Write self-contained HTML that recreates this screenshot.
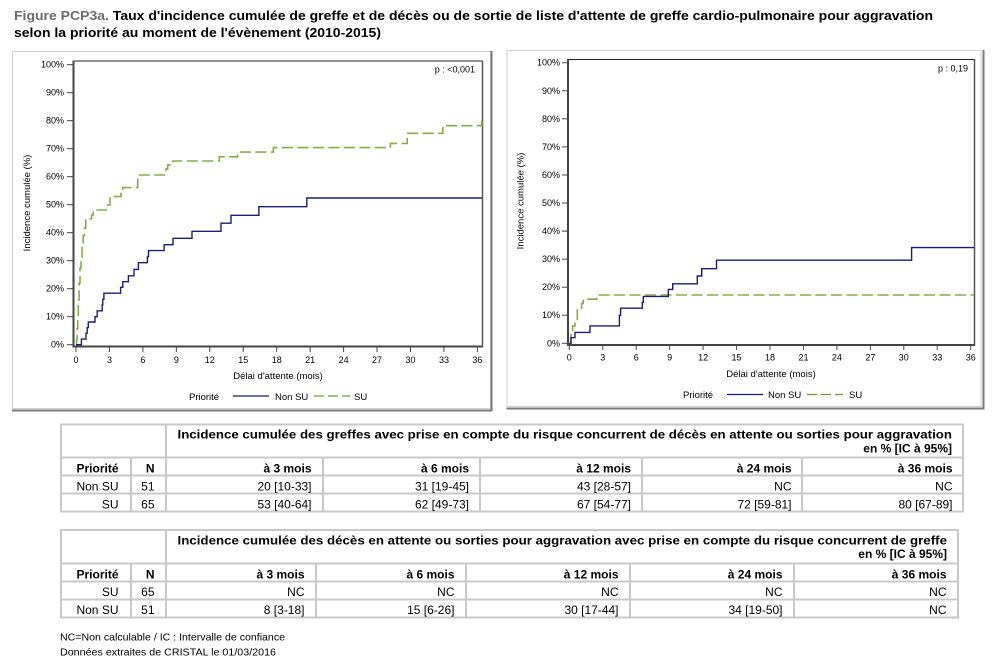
<!DOCTYPE html>
<html>
<head>
<meta charset="utf-8">
<style>
html,body{margin:0;padding:0;background:#fff;}
svg{display:block;}
text{font-family:"Liberation Sans",Arial,sans-serif;}
</style>
</head>
<body>
<svg width="1000" height="672" viewBox="0 0 1000 672" xmlns="http://www.w3.org/2000/svg">
<rect width="1000" height="672" fill="#fff"/>

<!-- Title -->
<text x="14" y="20" font-size="13" font-weight="bold" textLength="919" lengthAdjust="spacingAndGlyphs"><tspan fill="#6b6b6b">Figure PCP3a.</tspan><tspan fill="#000"> Taux d'incidence cumulée de greffe et de décès ou de sortie de liste d'attente de greffe cardio-pulmonaire pour aggravation</tspan></text>
<text x="14" y="37" font-size="13" font-weight="bold" fill="#000" textLength="367" lengthAdjust="spacingAndGlyphs">selon la priorité au moment de l'évènement (2010-2015)</text>

<!-- ================= LEFT CHART ================= -->
<rect x="12.5" y="51.5" width="478" height="357" fill="#fff" stroke="#cfcfcf" stroke-width="1"/>
<line x1="491.5" y1="51" x2="491.5" y2="411" stroke="#7a7a7a" stroke-width="2"/>
<line x1="12" y1="410.5" x2="492" y2="410.5" stroke="#7a7a7a" stroke-width="2"/>

<!-- plot frame -->
<rect x="73.5" y="61" width="409" height="285.5" fill="none" stroke="#222" stroke-width="1"/>
<line x1="73.5" y1="60.5" x2="73.5" y2="347.5" stroke="#444" stroke-width="2"/>
<line x1="72.5" y1="346.5" x2="483" y2="346.5" stroke="#444" stroke-width="2"/>
<line x1="482.5" y1="60.5" x2="482.5" y2="347.5" stroke="#555" stroke-width="1.5"/>

<!-- y ticks -->
<g stroke="#444" stroke-width="1">
<line x1="67" y1="64.7" x2="73" y2="64.7"/>
<line x1="67" y1="92.7" x2="73" y2="92.7"/>
<line x1="67" y1="120.7" x2="73" y2="120.7"/>
<line x1="67" y1="148.7" x2="73" y2="148.7"/>
<line x1="67" y1="176.7" x2="73" y2="176.7"/>
<line x1="67" y1="204.7" x2="73" y2="204.7"/>
<line x1="67" y1="232.7" x2="73" y2="232.7"/>
<line x1="67" y1="260.7" x2="73" y2="260.7"/>
<line x1="67" y1="288.7" x2="73" y2="288.7"/>
<line x1="67" y1="316.7" x2="73" y2="316.7"/>
<line x1="67" y1="344.7" x2="73" y2="344.7"/>
</g>
<g font-size="9" fill="#000" text-anchor="end">
<text x="64" y="67.7">100%</text>
<text x="64" y="95.7">90%</text>
<text x="64" y="123.7">80%</text>
<text x="64" y="151.7">70%</text>
<text x="64" y="179.7">60%</text>
<text x="64" y="207.7">50%</text>
<text x="64" y="235.7">40%</text>
<text x="64" y="263.7">30%</text>
<text x="64" y="291.7">20%</text>
<text x="64" y="319.7">10%</text>
<text x="64" y="347.7">0%</text>
</g>
<!-- x ticks -->
<g stroke="#444" stroke-width="1">
<line x1="76" y1="347" x2="76" y2="352"/>
<line x1="109.45" y1="347" x2="109.45" y2="352"/>
<line x1="142.9" y1="347" x2="142.9" y2="352"/>
<line x1="176.35" y1="347" x2="176.35" y2="352"/>
<line x1="209.8" y1="347" x2="209.8" y2="352"/>
<line x1="243.25" y1="347" x2="243.25" y2="352"/>
<line x1="276.7" y1="347" x2="276.7" y2="352"/>
<line x1="310.15" y1="347" x2="310.15" y2="352"/>
<line x1="343.6" y1="347" x2="343.6" y2="352"/>
<line x1="377.05" y1="347" x2="377.05" y2="352"/>
<line x1="410.5" y1="347" x2="410.5" y2="352"/>
<line x1="443.95" y1="347" x2="443.95" y2="352"/>
<line x1="477.4" y1="347" x2="477.4" y2="352"/>
</g>
<g font-size="9" fill="#000" text-anchor="middle">
<text x="76" y="363">0</text>
<text x="109.45" y="363">3</text>
<text x="142.9" y="363">6</text>
<text x="176.35" y="363">9</text>
<text x="209.8" y="363">12</text>
<text x="243.25" y="363">15</text>
<text x="276.7" y="363">18</text>
<text x="310.15" y="363">21</text>
<text x="343.6" y="363">24</text>
<text x="377.05" y="363">27</text>
<text x="410.5" y="363">30</text>
<text x="443.95" y="363">33</text>
<text x="477.4" y="363">36</text>
</g>
<text x="278" y="379" font-size="9.5" text-anchor="middle" fill="#000">Délai d'attente (mois)</text>
<text transform="translate(30,203) rotate(-90)" font-size="9.5" text-anchor="middle" fill="#000">Incidence cumulée (%)</text>
<text x="475" y="72.5" font-size="9" text-anchor="end" fill="#000">p : &lt;0,001</text>

<!-- series left -->
<path d="M76,344.7 H76.6 V339.1 H77.1 V328.5 H77.7 V316.7 H78.3 V299.9 H79.1 V283.1 H80 V268 H81 V257.9 H82 V246.7 H83.2 V235.5 H84.4 V228.2 H85.7 V218.7 H91.6 V215.1 H93.3 V210 H107.7 V205 H110 V196.6 H121 V192.7 H122.7 V187.6 H137.7 V175 H166 V169.1 H167.7 V164.9 H172.7 V161 H219.3 V156.8 H237.7 V152.1 H273.4 V147.6 H390.4 V143.4 H407.2 V133.3 H442.8 V125.7 H481.7 V120.2" fill="none" stroke="#86ad45" stroke-width="1.6" stroke-dasharray="11,4.5"/>
<path d="M76,344.7 H81.4 V339.1 H86 V333.2 H87.2 V327.6 H88.3 V322 H95 V316.7 H97.2 V310.8 H102.2 V304.9 H102.8 V299.3 H103.9 V293.2 H120.6 V287.3 H122.8 V281.7 H128.4 V275.8 H134 V269.4 H138.4 V262.7 H147.4 V256.8 H148.5 V250.6 H164.1 V244.7 H173 V238.3 H192 V231.3 H221 V223.2 H231 V215.3 H258.9 V206.7 H306.8 V198 H482" fill="none" stroke="#1c1c78" stroke-width="1.4"/>

<!-- legend left -->
<text x="189" y="400" font-size="9.5" fill="#000">Priorité</text>
<line x1="233" y1="396" x2="269" y2="396" stroke="#1c1c78" stroke-width="1.3"/>
<text x="275" y="400" font-size="9.5" fill="#000">Non SU</text>
<line x1="314" y1="396" x2="350" y2="396" stroke="#6f9a2a" stroke-width="1.3" stroke-dasharray="10,4"/>
<text x="354" y="400" font-size="9.5" fill="#000">SU</text>

<!-- ================= RIGHT CHART ================= -->
<rect x="507" y="50.5" width="474" height="356" fill="#fff" stroke="#cfcfcf" stroke-width="1"/>
<line x1="983.5" y1="50" x2="983.5" y2="409.5" stroke="#7a7a7a" stroke-width="2"/>
<line x1="506.5" y1="408.5" x2="984.5" y2="408.5" stroke="#7a7a7a" stroke-width="2"/>

<rect x="568" y="59.5" width="406.5" height="285" fill="none" stroke="#222" stroke-width="1"/>
<line x1="568" y1="59" x2="568" y2="346" stroke="#444" stroke-width="2"/>
<line x1="567" y1="345" x2="975" y2="345" stroke="#444" stroke-width="2"/>
<line x1="974.5" y1="59" x2="974.5" y2="346" stroke="#555" stroke-width="1.5"/>

<g stroke="#444" stroke-width="1">
<line x1="562" y1="62.7" x2="567.5" y2="62.7"/>
<line x1="562" y1="90.8" x2="567.5" y2="90.8"/>
<line x1="562" y1="118.8" x2="567.5" y2="118.8"/>
<line x1="562" y1="146.9" x2="567.5" y2="146.9"/>
<line x1="562" y1="175" x2="567.5" y2="175"/>
<line x1="562" y1="203" x2="567.5" y2="203"/>
<line x1="562" y1="231.1" x2="567.5" y2="231.1"/>
<line x1="562" y1="259.1" x2="567.5" y2="259.1"/>
<line x1="562" y1="287.2" x2="567.5" y2="287.2"/>
<line x1="562" y1="315.2" x2="567.5" y2="315.2"/>
<line x1="562" y1="343.3" x2="567.5" y2="343.3"/>
</g>
<g font-size="9" fill="#000" text-anchor="end">
<text x="560" y="65.7">100%</text>
<text x="560" y="93.8">90%</text>
<text x="560" y="121.8">80%</text>
<text x="560" y="149.9">70%</text>
<text x="560" y="178">60%</text>
<text x="560" y="206">50%</text>
<text x="560" y="234.1">40%</text>
<text x="560" y="262.1">30%</text>
<text x="560" y="290.2">20%</text>
<text x="560" y="318.2">10%</text>
<text x="560" y="346.3">0%</text>
</g>
<g stroke="#444" stroke-width="1">
<line x1="569.3" y1="345.5" x2="569.3" y2="350"/>
<line x1="602.75" y1="345.5" x2="602.75" y2="350"/>
<line x1="636.2" y1="345.5" x2="636.2" y2="350"/>
<line x1="669.65" y1="345.5" x2="669.65" y2="350"/>
<line x1="703.1" y1="345.5" x2="703.1" y2="350"/>
<line x1="736.55" y1="345.5" x2="736.55" y2="350"/>
<line x1="770" y1="345.5" x2="770" y2="350"/>
<line x1="803.45" y1="345.5" x2="803.45" y2="350"/>
<line x1="836.9" y1="345.5" x2="836.9" y2="350"/>
<line x1="870.35" y1="345.5" x2="870.35" y2="350"/>
<line x1="903.8" y1="345.5" x2="903.8" y2="350"/>
<line x1="937.25" y1="345.5" x2="937.25" y2="350"/>
<line x1="970.7" y1="345.5" x2="970.7" y2="350"/>
</g>
<g font-size="9" fill="#000" text-anchor="middle">
<text x="569.3" y="360.5">0</text>
<text x="602.75" y="360.5">3</text>
<text x="636.2" y="360.5">6</text>
<text x="669.65" y="360.5">9</text>
<text x="703.1" y="360.5">12</text>
<text x="736.55" y="360.5">15</text>
<text x="770" y="360.5">18</text>
<text x="803.45" y="360.5">21</text>
<text x="836.9" y="360.5">24</text>
<text x="870.35" y="360.5">27</text>
<text x="903.8" y="360.5">30</text>
<text x="937.25" y="360.5">33</text>
<text x="970.7" y="360.5">36</text>
</g>
<text x="771" y="377" font-size="9.5" text-anchor="middle" fill="#000">Délai d'attente (mois)</text>
<text transform="translate(523.5,201) rotate(-90)" font-size="9.5" text-anchor="middle" fill="#000">Incidence cumulée (%)</text>
<text x="968" y="71.5" font-size="9" text-anchor="end" fill="#000">p : 0,19</text>

<path d="M569.3,343.3 H571 V333.2 H572.6 V325.9 H575 V321.7 H577.3 V308.2 H581.6 V303.5 H583.2 V299.2 H596.5 V295 H974" fill="none" stroke="#86ad45" stroke-width="1.6" stroke-dasharray="11,4.5"/>
<path d="M569.3,343.3 H571 V337.7 H575 V332.4 H590 V325.9 H619.4 V315.2 H620.6 V308.2 H642.3 V302.3 H643.3 V296.4 H668.3 V289.4 H672.7 V283.8 H697.3 V276 H701.7 V268.7 H716.5 V260.2 H911.6 V247.6 H974" fill="none" stroke="#1c1c78" stroke-width="1.4"/>

<text x="683" y="398" font-size="9.5" fill="#000">Priorité</text>
<line x1="727" y1="394.5" x2="763" y2="394.5" stroke="#1c1c78" stroke-width="1.3"/>
<text x="768" y="398" font-size="9.5" fill="#000">Non SU</text>
<line x1="807" y1="394.5" x2="843" y2="394.5" stroke="#6f9a2a" stroke-width="1.3" stroke-dasharray="10,4"/>
<text x="849" y="398" font-size="9.5" fill="#000">SU</text>

<!-- ================= TABLE 1 ================= -->
<g stroke="#c8c8c8" stroke-width="2" fill="none">
<line x1="60" y1="424.5" x2="964" y2="424.5"/>
<line x1="60" y1="457.5" x2="964" y2="457.5"/>
<line x1="60" y1="475.5" x2="964" y2="475.5"/>
<line x1="60" y1="493.5" x2="964" y2="493.5"/>
<line x1="60" y1="511.5" x2="964" y2="511.5"/>
<line x1="61" y1="424" x2="61" y2="512"/>
<line x1="166" y1="424" x2="166" y2="512"/>
<line x1="963" y1="424" x2="963" y2="512"/>
<line x1="131" y1="457" x2="131" y2="512"/>
<line x1="323" y1="457" x2="323" y2="512"/>
<line x1="480" y1="457" x2="480" y2="512"/>
<line x1="642" y1="457" x2="642" y2="512"/>
<line x1="802" y1="457" x2="802" y2="512"/>
</g>
<g font-size="12" fill="#000">
<text x="177.5" y="438.3" font-weight="bold" textLength="774.5" lengthAdjust="spacingAndGlyphs">Incidence cumulée des greffes avec prise en compte du risque concurrent de décès en attente ou sorties pour aggravation</text>
<text x="952" y="452.7" font-weight="bold" text-anchor="end">en % [IC à 95%]</text>
<g font-weight="bold" text-anchor="end">
<text x="118.5" y="472.3">Priorité</text>
<text x="154.5" y="472.3">N</text>
<text x="311.5" y="472.3">à 3 mois</text>
<text x="469" y="472.3">à 6 mois</text>
<text x="631" y="472.3">à 12 mois</text>
<text x="791.5" y="472.3">à 24 mois</text>
<text x="952.5" y="472.3">à 36 mois</text>
</g>
<g text-anchor="end">
<text x="118.5" y="490.3">Non SU</text>
<text x="154.5" y="490.3">51</text>
<text x="311.5" y="490.3">20 [10-33]</text>
<text x="469" y="490.3">31 [19-45]</text>
<text x="631" y="490.3">43 [28-57]</text>
<text x="791.5" y="490.3">NC</text>
<text x="952.5" y="490.3">NC</text>
<text x="118.5" y="508.3">SU</text>
<text x="154.5" y="508.3">65</text>
<text x="311.5" y="508.3">53 [40-64]</text>
<text x="469" y="508.3">62 [49-73]</text>
<text x="631" y="508.3">67 [54-77]</text>
<text x="791.5" y="508.3">72 [59-81]</text>
<text x="952.5" y="508.3">80 [67-89]</text>
</g>
</g>

<!-- ================= TABLE 2 ================= -->
<g stroke="#c8c8c8" stroke-width="2" fill="none">
<line x1="60" y1="530" x2="959" y2="530"/>
<line x1="60" y1="563.5" x2="959" y2="563.5"/>
<line x1="60" y1="581.5" x2="959" y2="581.5"/>
<line x1="60" y1="599.5" x2="959" y2="599.5"/>
<line x1="60" y1="617.5" x2="959" y2="617.5"/>
<line x1="61" y1="529" x2="61" y2="618"/>
<line x1="166" y1="529" x2="166" y2="618"/>
<line x1="958" y1="529" x2="958" y2="618"/>
<line x1="131" y1="563" x2="131" y2="618"/>
<line x1="316" y1="563" x2="316" y2="618"/>
<line x1="466" y1="563" x2="466" y2="618"/>
<line x1="630" y1="563" x2="630" y2="618"/>
<line x1="794" y1="563" x2="794" y2="618"/>
</g>
<g font-size="12" fill="#000">
<text x="177.5" y="544.3" font-weight="bold" textLength="769.5" lengthAdjust="spacingAndGlyphs">Incidence cumulée des décès en attente ou sorties pour aggravation avec prise en compte du risque concurrent de greffe</text>
<text x="947" y="558" font-weight="bold" text-anchor="end">en % [IC à 95%]</text>
<g font-weight="bold" text-anchor="end">
<text x="118.5" y="578.3">Priorité</text>
<text x="154.5" y="578.3">N</text>
<text x="304.5" y="578.3">à 3 mois</text>
<text x="454.5" y="578.3">à 6 mois</text>
<text x="618.5" y="578.3">à 12 mois</text>
<text x="782.5" y="578.3">à 24 mois</text>
<text x="946.5" y="578.3">à 36 mois</text>
</g>
<g text-anchor="end">
<text x="118.5" y="596">SU</text>
<text x="154.5" y="596">65</text>
<text x="304.5" y="596">NC</text>
<text x="454.5" y="596">NC</text>
<text x="618.5" y="596">NC</text>
<text x="782.5" y="596">NC</text>
<text x="946.5" y="596">NC</text>
<text x="118.5" y="614">Non SU</text>
<text x="154.5" y="614">51</text>
<text x="304.5" y="614">8 [3-18]</text>
<text x="454.5" y="614">15 [6-26]</text>
<text x="618.5" y="614">30 [17-44]</text>
<text x="782.5" y="614">34 [19-50]</text>
<text x="946.5" y="614">NC</text>
</g>
</g>

<!-- Footer -->
<text x="60" y="640.5" font-size="10.5" fill="#000" textLength="225" lengthAdjust="spacingAndGlyphs">NC=Non calculable / IC : Intervalle de confiance</text>
<text x="60" y="655.5" font-size="10.5" fill="#000" textLength="216" lengthAdjust="spacingAndGlyphs">Données extraites de CRISTAL le 01/03/2016</text>
</svg>
</body>
</html>
